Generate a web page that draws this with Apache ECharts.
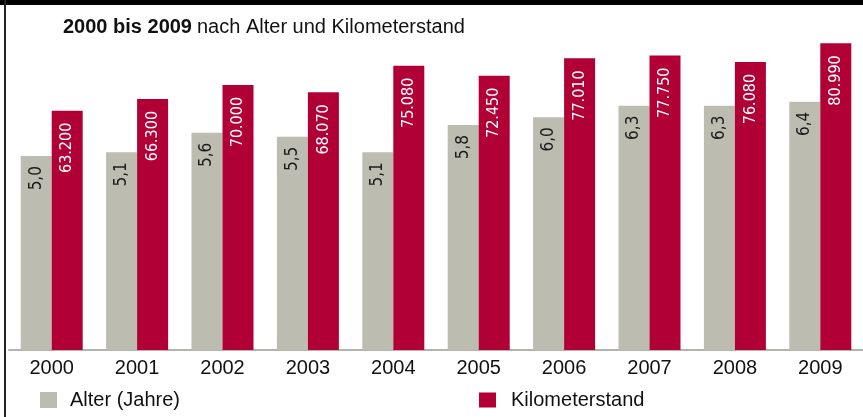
<!DOCTYPE html>
<html>
<head>
<meta charset="utf-8">
<script src="https://cdn.jsdelivr.net/npm/echarts@6/dist/echarts.min.js"></script>
<style>
  html, body { margin: 0; padding: 0; background: #fff; }
  #chart { width: 863px; height: 417px; }
</style>
</head>
<body>
<div id="chart"></div>
<script>
const years = ["2000", "2001", "2002", "2003", "2004", "2005", "2006", "2007", "2008", "2009"];
const alter = [5.0, 5.1, 5.6, 5.5, 5.1, 5.8, 6.0, 6.3, 6.3, 6.4];
const kilometer = [63200, 66300, 70000, 68070, 75080, 72450, 77010, 77750, 76080, 80990];

const GREY = "#bcbcb0";
const RED = "#b00036";
const sans = "'Liberation Sans', sans-serif";
const narrow = "'Liberation Sans Narrow', 'DejaVu Sans Condensed', sans-serif";

function formatKm(v) {
  return String(v).replace(/\B(?=(\d{3})+(?!\d))/g, ".");
}

const chart = echarts.init(document.getElementById("chart"), null, { renderer: "canvas" });

const legendText = { fontFamily: sans, fontSize: 20, color: "#111" };

const option = {
  animation: false,
  backgroundColor: "#fff",
  title: {
    left: 63,
    top: 17,
    padding: 0,
    text: "{b|2000 bis 2009} {n|nach Alter und Kilometerstand}",
    textStyle: {
      rich: {
        b: { fontFamily: sans, fontSize: 20, fontWeight: "bold", color: "#111" },
        n: { fontFamily: sans, fontSize: 20, fontWeight: "normal", color: "#111" },
      },
    },
  },
  legend: [
    {
      data: ["Alter (Jahre)"],
      left: 40,
      top: 390,
      padding: 0,
      itemWidth: 17,
      itemHeight: 16,
      icon: "rect",
      textStyle: Object.assign({ padding: [0, 0, 0, 8] }, legendText),
    },
    {
      data: ["Kilometerstand"],
      left: 479,
      top: 390,
      padding: 0,
      itemWidth: 17,
      itemHeight: 15,
      icon: "rect",
      textStyle: Object.assign({ padding: [0, 0, 0, 10] }, legendText),
    },
  ],
  grid: { left: 9, right: -4, top: 30, bottom: 67 },
  xAxis: {
    type: "category",
    data: years,
    axisTick: { show: false },
    axisLine: { lineStyle: { color: "#b4b4ac", width: 2 } },
    axisLabel: { color: "#111", fontSize: 20, margin: 8, fontFamily: sans },
  },
  yAxis: [
    { type: "value", min: 0, max: 8.25, show: false, splitLine: { show: false } },
    { type: "value", min: 0, max: 84500, show: false, splitLine: { show: false } },
  ],
  series: [
    {
      name: "Alter (Jahre)",
      type: "bar",
      yAxisIndex: 0,
      data: alter,
      barWidth: 31,
      barGap: "0%",
      itemStyle: { color: GREY },
      label: {
        show: true,
        position: "insideTop",
        rotate: 90,
        align: "right",
        verticalAlign: "middle",
        distance: 10,
        color: "#1a1a1a",
        fontSize: 17,
        fontFamily: narrow,
        formatter: (p) => p.value.toFixed(1).replace(".", ","),
      },
    },
    {
      name: "Kilometerstand",
      type: "bar",
      yAxisIndex: 1,
      data: kilometer,
      barWidth: 31,
      barGap: "0%",
      itemStyle: { color: RED },
      label: {
        show: true,
        position: "insideTop",
        rotate: 90,
        align: "right",
        verticalAlign: "middle",
        distance: 12,
        color: "#fff",
        fontSize: 16,
        fontFamily: narrow,
        formatter: (p) => formatKm(p.value),
      },
    },
  ],
  graphic: [
    // frame: black band on top, thin line on the left
    { type: "rect", left: 0, top: 0, shape: { width: 863, height: 5 }, style: { fill: "#000" } },
    { type: "rect", left: 4, top: 0, shape: { width: 2, height: 417 }, style: { fill: "#222" } },
  ],
};

chart.setOption(option);
</script>
</body>
</html>
